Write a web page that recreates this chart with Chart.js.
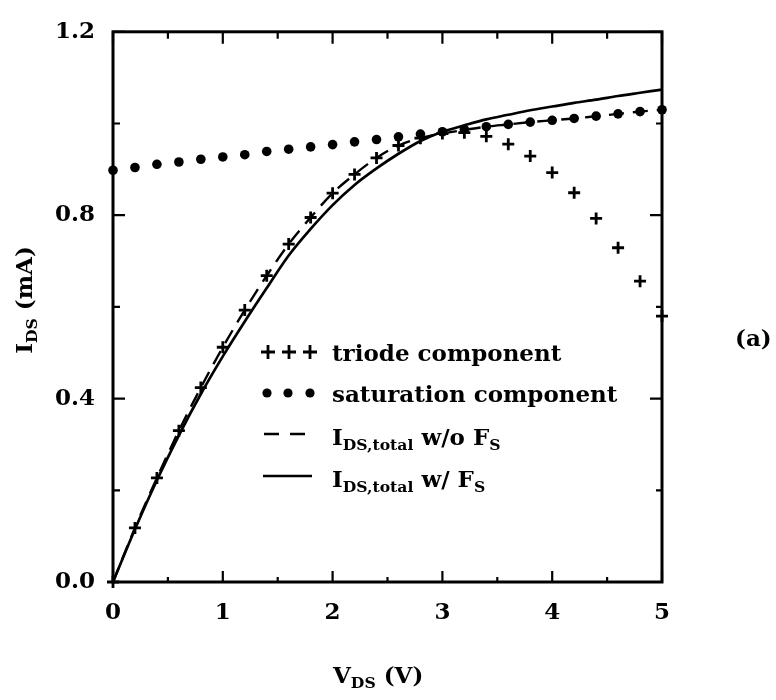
<!DOCTYPE html>
<html>
<head>
<meta charset="utf-8">
<title>I-V characteristics</title>
<script src="https://cdn.jsdelivr.net/npm/chart.js@4.4.0/dist/chart.umd.min.js"></script>
<style>
  html, body { margin: 0; padding: 0; background: #fff; }
  #wrap { position: relative; width: 776px; height: 700px; overflow: hidden;
          font-family: "DejaVu Serif", serif; font-weight: bold; color: #000; }
  #plot { position: absolute; left: 0; top: 0; }
  .lbl { position: absolute; white-space: nowrap; line-height: 1; font-size: 23px; }
  .lbl sub { font-size: 0.68em; vertical-align: -0.35em; line-height: 0; }
  #yTitle { width: 200px; line-height: 30px; text-align: center; transform: rotate(-90deg); }
</style>
</head>
<body>
<div id="wrap">
  <canvas id="plot" width="776" height="700"></canvas>
  <div class="lbl" style="left:332px; top:341px;">triode component</div>
  <div class="lbl" style="left:332px; top:382px;">saturation component</div>
  <div class="lbl" style="left:332px; top:425px;">I<sub>DS,total</sub> w/o F<sub>S</sub></div>
  <div class="lbl" style="left:332px; top:467px;">I<sub>DS,total</sub> w/ F<sub>S</sub></div>
  <div class="lbl" id="xTitle" style="left:333px; top:663px;">V<sub>DS</sub> (V)</div>
  <div class="lbl" id="yTitle" style="left:-76px; top:285px;">I<sub>DS</sub> (mA)</div>
  <div class="lbl" id="panel" style="left:735px; top:326px;">(a)</div>
</div>
<script>
// drain voltage samples (V)
const vds = [0, 0.2, 0.4, 0.6, 0.8, 1.0, 1.2, 1.4, 1.6, 1.8, 2.0, 2.2, 2.4,
             2.6, 2.8, 3.0, 3.2, 3.4, 3.6, 3.8, 4.0, 4.2, 4.4, 4.6, 4.8, 5.0];

// drain current (mA)
const triode = [0, 0.118, 0.227, 0.330, 0.424, 0.512, 0.593, 0.668, 0.737, 0.795,
                0.848, 0.889, 0.925, 0.952, 0.968, 0.978, 0.980, 0.972, 0.955, 0.929,
                0.893, 0.849, 0.793, 0.729, 0.656, 0.580];
const saturation = [0.898, 0.904, 0.911, 0.916, 0.922, 0.927, 0.932, 0.939, 0.944, 0.949,
                    0.954, 0.960, 0.965, 0.971, 0.977, 0.982, 0.987, 0.993, 0.998, 1.003,
                    1.007, 1.011, 1.016, 1.021, 1.026, 1.030];
const totalNoFs = [0, 0.118, 0.227, 0.330, 0.424, 0.512, 0.593, 0.668, 0.737, 0.795,
                   0.848, 0.889, 0.925, 0.952, 0.968, 0.978, 0.986, 0.993, 0.998, 1.003,
                   1.007, 1.011, 1.016, 1.021, 1.026, 1.030];
const totalFs = [0, 0.115, 0.222, 0.320, 0.410, 0.492, 0.568, 0.641, 0.712, 0.770,
                 0.822, 0.866, 0.902, 0.934, 0.962, 0.982, 0.996, 1.009, 1.019, 1.029,
                 1.037, 1.045, 1.052, 1.060, 1.067, 1.074];

// axis ticks
const xTicks = [0, 1, 2, 3, 4, 5];
const xMinorTicks = [0.5, 1.5, 2.5, 3.5, 4.5];
const yTicks = [0, 0.4, 0.8, 1.2];
const yMinorTicks = [0.2, 0.6, 1.0];

const pts = ys => vds.map((v, i) => ({ x: v, y: ys[i] }));

// boxed frame with inward ticks on all four sides
const axisFrame = {
  id: 'axisFrame',
  beforeDatasetsDraw(chart) {
    const { ctx, chartArea: a, scales: { x, y } } = chart;
    ctx.save();
    ctx.strokeStyle = '#000';
    ctx.lineWidth = 3;
    ctx.strokeRect(a.left, a.top, a.right - a.left, a.bottom - a.top);
    ctx.lineWidth = 2.2;
    ctx.beginPath();
    const seg = (x1, y1, x2, y2) => { ctx.moveTo(x1, y1); ctx.lineTo(x2, y2); };
    xTicks.forEach(v => {
      const px = x.getPixelForValue(v);
      seg(px, a.bottom, px, a.bottom - 11);
      seg(px, a.top, px, a.top + 12);
    });
    xMinorTicks.forEach(v => {
      const px = x.getPixelForValue(v);
      seg(px, a.bottom, px, a.bottom - 5);
      seg(px, a.top, px, a.top + 7);
    });
    yTicks.forEach(v => {
      const py = y.getPixelForValue(v);
      seg(a.left, py, a.left + 12, py);
      seg(a.right, py, a.right - 12, py);
    });
    yMinorTicks.forEach(v => {
      const py = y.getPixelForValue(v);
      seg(a.left, py, a.left + 7, py);
      seg(a.right, py, a.right - 6, py);
    });
    ctx.stroke();
    ctx.restore();
  }
};

// symbols in front of the legend text
const legendKeys = {
  id: 'legendKeys',
  afterDraw(chart) {
    const ctx = chart.ctx;
    ctx.save();
    ctx.strokeStyle = '#000';
    ctx.fillStyle = '#000';
    ctx.lineWidth = 2.8;
    ctx.beginPath();
    [268, 289, 310].forEach(cx => {
      ctx.moveTo(cx - 7, 352); ctx.lineTo(cx + 7, 352);
      ctx.moveTo(cx, 345); ctx.lineTo(cx, 359);
    });
    ctx.stroke();
    [267, 288, 310].forEach(cx => {
      ctx.beginPath();
      ctx.arc(cx, 393, 4.6, 0, Math.PI * 2);
      ctx.fill();
    });
    ctx.lineWidth = 2.4;
    ctx.setLineDash([15, 11]);
    ctx.beginPath();
    ctx.moveTo(264, 434); ctx.lineTo(306, 434);
    ctx.stroke();
    ctx.setLineDash([]);
    ctx.lineWidth = 2.7;
    ctx.beginPath();
    ctx.moveTo(263, 476); ctx.lineTo(312, 476);
    ctx.stroke();
    ctx.restore();
  }
};

const tickFont = { family: 'DejaVu Serif', size: 23, weight: 'bold' };

new Chart(document.getElementById('plot'), {
  type: 'scatter',
  data: {
    datasets: [
      {
        label: 'triode component',
        data: pts(triode),
        pointStyle: 'cross',
        pointRadius: 6,
        borderWidth: 2.8,
        borderColor: '#000',
        showLine: false,
        clip: false
      },
      {
        label: 'saturation component',
        data: pts(saturation),
        pointStyle: 'circle',
        pointRadius: 4.8,
        borderWidth: 0,
        backgroundColor: '#000',
        showLine: false,
        clip: false
      },
      {
        label: 'IDS,total w/o FS',
        data: pts(totalNoFs),
        showLine: true,
        borderColor: '#000',
        borderWidth: 2.4,
        borderDash: [15, 9],
        pointRadius: 0,
        cubicInterpolationMode: 'monotone',
        clip: false
      },
      {
        label: 'IDS,total w/ FS',
        data: pts(totalFs),
        showLine: true,
        borderColor: '#000',
        borderWidth: 2.7,
        pointRadius: 0,
        cubicInterpolationMode: 'monotone',
        clip: false
      }
    ]
  },
  options: {
    responsive: false,
    animation: false,
    layout: { padding: { top: 28, right: 114, left: 0, bottom: 0 } },
    plugins: { legend: { display: false }, tooltip: { enabled: false } },
    scales: {
      x: {
        type: 'linear',
        min: 0,
        max: 5,
        grid: { display: false, drawTicks: false },
        border: { display: false },
        afterBuildTicks: s => { s.ticks = xTicks.map(v => ({ value: v })); },
        afterFit: s => { s.height = 118; },
        ticks: {
          font: tickFont,
          color: '#000',
          padding: 17,
          maxRotation: 0,
          autoSkip: false,
          callback: v => String(v)
        }
      },
      y: {
        min: 0,
        max: 1.2,
        grid: { display: false, drawTicks: false },
        border: { display: false },
        afterBuildTicks: s => { s.ticks = yTicks.map(v => ({ value: v })); },
        afterFit: s => { s.width = 113; },
        ticks: {
          font: tickFont,
          color: '#000',
          padding: 18,
          autoSkip: false,
          callback: v => v.toFixed(1)
        }
      }
    }
  },
  plugins: [axisFrame, legendKeys]
});
</script>
</body>
</html>
